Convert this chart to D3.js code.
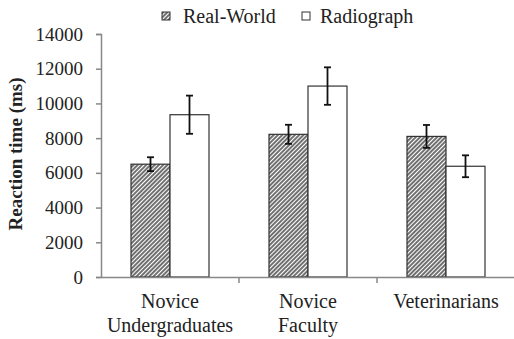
<!DOCTYPE html>
<html>
<head>
<meta charset="utf-8">
<script src="https://cdn.jsdelivr.net/npm/d3@7/dist/d3.min.js"></script>
<style>
  body { margin: 0; background: #fff; }
  svg text { font-family: "Liberation Serif", "Times New Roman", serif; fill: #222; }
</style>
</head>
<body>
<div id="chart"></div>
<script>
// data
const groups = ["Novice Undergraduates", "Novice Faculty", "Veterinarians"];
const groupLines = [["Novice", "Undergraduates"], ["Novice", "Faculty"], ["Veterinarians"]];
const seriesNames = ["Real-World", "Radiograph"];
const realWorld = [6500, 8220, 8100];
const radiograph = [9350, 11000, 6380];
const realWorldErr = [400, 550, 660];
const radiographErr = [1100, 1080, 630];
const yTicks = [0, 2000, 4000, 6000, 8000, 10000, 12000, 14000];

const W = 514, H = 339;
const serif = "'Liberation Serif', 'Times New Roman', serif";

const svg = d3.select("#chart")
    .append("svg")
    .attr("width", W)
    .attr("height", H);

// hatch pattern
const defs = svg.append("defs");
const pat = defs.append("pattern")
    .attr("id", "hatch")
    .attr("patternUnits", "userSpaceOnUse")
    .attr("width", 3)
    .attr("height", 3)
    .attr("patternTransform", "rotate(45)");
pat.append("rect").attr("width", 3).attr("height", 3).attr("fill", "#fff");
pat.append("line")
    .attr("x1", 1).attr("y1", 0).attr("x2", 1).attr("y2", 3)
    .attr("stroke", "#333").attr("stroke-width", 1.4);

// scales
const x = d3.scaleBand()
    .domain(groups)
    .range([101, 515])
    .padding(0);

const y = d3.scaleLinear()
    .domain([0, 14000])
    .range([277, 34]);

const barW = 39;

// bars
const data = groups.map((g, i) => ({
    g,
    vals: [
        { s: 0, v: realWorld[i], e: realWorldErr[i] },
        { s: 1, v: radiograph[i], e: radiographErr[i] }
    ]
}));

const gGroup = svg.selectAll(".grp")
    .data(data)
    .enter()
    .append("g")
    .attr("class", "grp");

gGroup.selectAll("rect")
    .data(d => d.vals.map(v => ({ ...v, g: d.g })))
    .enter()
    .append("rect")
    .attr("x", d => x(d.g) + x.bandwidth() / 2 + (d.s === 0 ? -barW : 0))
    .attr("y", d => y(d.v))
    .attr("width", barW)
    .attr("height", d => y(0) - y(d.v))
    .attr("fill", d => d.s === 0 ? "url(#hatch)" : "#fff")
    .attr("stroke", "#333")
    .attr("stroke-width", 1.2);

// error bars
const errs = gGroup.selectAll(".err")
    .data(d => d.vals.map(v => ({ ...v, g: d.g })))
    .enter()
    .append("g")
    .attr("class", "err")
    .attr("stroke", "#111")
    .attr("stroke-width", 1.8);

const cx = d => x(d.g) + x.bandwidth() / 2 + (d.s === 0 ? -barW / 2 : barW / 2);
errs.append("line")
    .attr("x1", cx).attr("x2", cx)
    .attr("y1", d => y(d.v + d.e)).attr("y2", d => y(d.v - d.e));
errs.append("line")
    .attr("x1", d => cx(d) - 3.5).attr("x2", d => cx(d) + 3.5)
    .attr("y1", d => y(d.v + d.e)).attr("y2", d => y(d.v + d.e));
errs.append("line")
    .attr("x1", d => cx(d) - 3.5).attr("x2", d => cx(d) + 3.5)
    .attr("y1", d => y(d.v - d.e)).attr("y2", d => y(d.v - d.e));

// y axis
const yAxis = svg.append("g")
    .attr("transform", "translate(101,0)")
    .call(d3.axisLeft(y).tickValues(yTicks).tickFormat(d3.format("d")).tickSize(5).tickPadding(13))
    .attr("font-family", serif)
    .attr("font-size", 19);
yAxis.select(".domain").attr("stroke", "#888").attr("stroke-width", 1.5);
yAxis.selectAll(".tick line").attr("stroke", "#888").attr("stroke-width", 1.5);
yAxis.selectAll(".tick text")
    .style("font-family", serif)
    .style("font-size", "19px")
    .attr("fill", "#222");

// x axis
const xAxis = svg.append("g")
    .attr("transform", `translate(0,${y(0)})`)
    .call(d3.axisBottom(x).tickSize(0).tickFormat(""));
xAxis.select(".domain").attr("stroke", "#888").attr("stroke-width", 1.5);
xAxis.selectAll(".tick line").remove();

// boundary ticks between categories
svg.selectAll(".xtick")
    .data(groups.slice(1))
    .enter()
    .append("line")
    .attr("x1", d => x(d)).attr("x2", d => x(d))
    .attr("y1", y(0)).attr("y2", y(0) + 6)
    .attr("stroke", "#888").attr("stroke-width", 1.5);

// category labels
const lab = svg.selectAll(".catlab")
    .data(groups)
    .enter()
    .append("text")
    .attr("class", "catlab")
    .attr("text-anchor", "middle")
    .style("font-size", "20px");
lab.each(function(d, i) {
    const t = d3.select(this);
    groupLines[i].forEach((ln, j) => {
        t.append("tspan")
            .attr("x", x(d) + x.bandwidth() / 2)
            .attr("y", 308 + j * 24)
            .text(ln);
    });
});

// y title
svg.append("text")
    .attr("transform", "rotate(-90)")
    .attr("x", -154)
    .attr("y", 22)
    .attr("text-anchor", "middle")
    .style("font-size", "19px")
    .style("font-weight", "bold")
    .text("Reaction time (ms)");

// legend
const legX = [162, 302];
const leg = svg.selectAll(".legend")
    .data(seriesNames)
    .enter()
    .append("g")
    .attr("class", "legend")
    .attr("transform", (d, i) => `translate(${legX[i]},12)`);
leg.append("rect")
    .attr("width", 8)
    .attr("height", 8)
    .attr("fill", (d, i) => i === 0 ? "url(#hatch)" : "#fff")
    .attr("stroke", "#333")
    .attr("stroke-width", 1);
leg.append("text")
    .attr("x", (d, i) => i === 0 ? 21 : 18)
    .attr("y", 11)
    .style("font-size", "20px")
    .text(d => d);
</script>
</body>
</html>
